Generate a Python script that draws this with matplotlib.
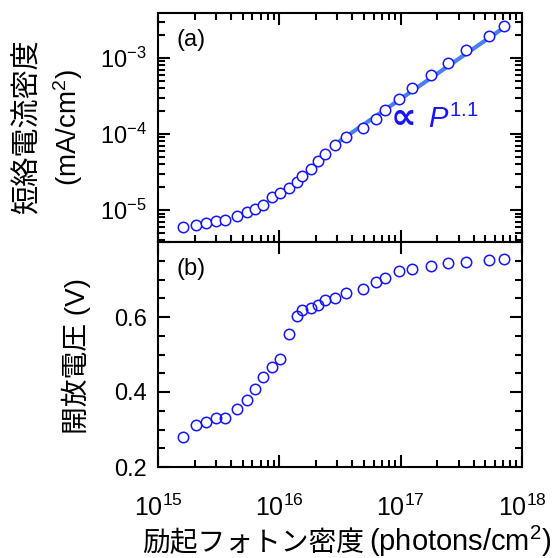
import matplotlib
matplotlib.use("Agg")
import matplotlib.pyplot as plt
import numpy as np
from matplotlib.ticker import LogLocator, FixedLocator, MultipleLocator, NullFormatter

plt.rcParams['font.family'] = ['Liberation Sans', 'Noto Sans CJK JP', 'DejaVu Sans']
plt.rcParams['mathtext.fontset'] = 'custom'
plt.rcParams['mathtext.rm'] = 'Liberation Sans'
plt.rcParams['mathtext.it'] = 'Liberation Sans:italic'

# log10 of photon density
log_p = [15.209, 15.314, 15.397, 15.477, 15.556, 15.655, 15.733, 15.796, 15.865, 15.940,
         16.003, 16.080, 16.146, 16.190, 16.264, 16.317, 16.380, 16.457, 16.551, 16.686,
         16.796, 16.873, 16.989, 17.091, 17.248, 17.388, 17.540, 17.725, 17.851]
# log10 of short-circuit current density (mA/cm2)
log_jsc = [-5.224, -5.202, -5.171, -5.141, -5.127, -5.079, -5.026, -4.991, -4.930, -4.829,
           -4.776, -4.711, -4.632, -4.557, -4.456, -4.359, -4.259, -4.149, -4.035, -3.921,
           -3.807, -3.680, -3.539, -3.390, -3.228, -3.066, -2.899, -2.714, -2.579]
# open-circuit voltage (V)
voc = [0.280, 0.313, 0.319, 0.330, 0.332, 0.356, 0.379, 0.408, 0.441, 0.466,
       0.488, 0.555, 0.602, 0.619, 0.625, 0.632, 0.645, 0.652, 0.664, 0.675,
       0.694, 0.705, 0.723, 0.728, 0.736, 0.744, 0.747, 0.753, 0.756]
# power-law fit, slope 1.1
fit_logp = [16.50, 17.88]
fit_logj = [-4.09, -2.57]
voc_ticks = [0.2, 0.4, 0.6, 0.8]
voc_labels = ['0.2', '0.4', '0.6', '']

p = 10 ** np.array(log_p)
jsc = 10 ** np.array(log_jsc)

W, H = 554, 558
fig = plt.figure(figsize=(W / 100, H / 100), dpi=100)
ax1 = fig.add_axes([158 / W, 1 - 242 / H, 364 / W, 229 / H])
ax2 = fig.add_axes([158 / W, 1 - 467 / H, 364 / W, 225 / H], sharex=ax1)

blue = '#1414ff'
ax1.plot(10 ** np.array(fit_logp), 10 ** np.array(fit_logj), color='#4a7ff0', lw=3, solid_capstyle='round')
ax1.plot(p, jsc, 'o', mfc='white', mec=blue, ms=7.5, mew=1.1)
ax2.plot(p, voc, 'o', mfc='none', mec=blue, ms=7.5, mew=1.1)

ax1.set_xscale('log')
ax1.set_yscale('log')
ax1.set_xlim(1e15, 1e18)
ax1.set_ylim(10 ** -5.42, 10 ** -2.41)
ax2.set_ylim(0.2, 0.8)

for ax in (ax1, ax2):
    ax.tick_params(which='both', direction='in', top=True, right=True, width=1.5, labelsize=17)
    ax.tick_params(which='major', length=8.5)
    ax.tick_params(which='minor', length=5)
    for s in ax.spines.values():
        s.set_linewidth(1.5)

ax1.xaxis.set_major_locator(LogLocator(base=10, numticks=10))
ax1.xaxis.set_minor_locator(LogLocator(base=10, subs=np.arange(2, 10), numticks=20))
ax1.xaxis.set_minor_formatter(NullFormatter())
ax1.yaxis.set_major_locator(LogLocator(base=10, numticks=10))
ax1.yaxis.set_minor_locator(LogLocator(base=10, subs=np.arange(2, 10), numticks=20))
ax1.yaxis.set_minor_formatter(NullFormatter())
ax1.tick_params(axis='x', labelbottom=False)
ax1.tick_params(axis='y', pad=8)

ax2.yaxis.set_major_locator(FixedLocator(voc_ticks))
ax2.yaxis.set_minor_locator(MultipleLocator(0.05))
ax2.set_yticklabels(voc_labels)
ax2.tick_params(axis='x', which='minor', top=False)
ax2.tick_params(axis='y', pad=8)
ax2.tick_params(axis='x', pad=20, labelsize=18)

ax1.text(0.05, 0.93, '(a)', transform=ax1.transAxes, fontsize=17, va='top', ha='left')
ax2.text(0.05, 0.93, '(b)', transform=ax2.transAxes, fontsize=17, va='top', ha='left')
fig.text(391 / W, 1 - 128 / H, '∝', family='DejaVu Sans', fontweight='bold',
         fontsize=26, color=blue, ha='left', va='baseline')
fig.text(428 / W, 1 - 128 / H, r'$P^{1.1}$', fontsize=21, color=blue, ha='left', va='baseline')

fig.text(28 / W, 1 - 127 / H, '短絡電流密度', rotation=90, fontsize=21, ha='center', va='center')
fig.text(68 / W, 1 - 127 / H, '(mA/cm$^2$)', rotation=90, fontsize=20, ha='center', va='center')
fig.text(76 / W, 1 - 356 / H, '開放電圧 (V)', rotation=90, fontsize=20, ha='center', va='center')
fig.text(364 / W, 1 - 551 / H, '励起フォトン密度', fontsize=20, ha='right', va='baseline')
fig.text(369 / W, 1 - 551 / H, '(photons/cm$^2$)', fontsize=21, ha='left', va='baseline')

fig.savefig('out.png', dpi=100)
